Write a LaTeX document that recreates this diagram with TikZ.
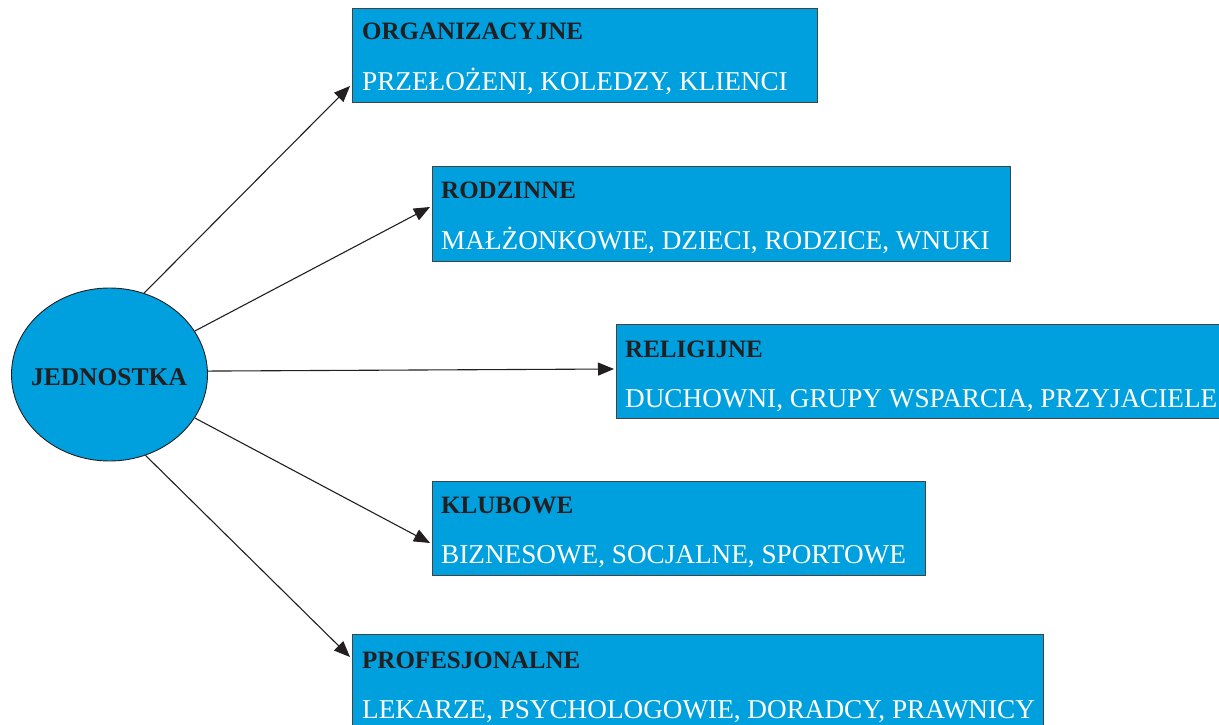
\documentclass[tikz,border=0pt]{standalone}
\usepackage{fontspec}
\setmainfont{Liberation Serif}
\usetikzlibrary{arrows.meta,shapes.geometric}
\definecolor{boxblue}{RGB}{0,160,223}
\definecolor{darktxt}{RGB}{35,31,32}
\begin{document}
\begin{tikzpicture}[x=1pt,y=-1pt,
  catbox/.style={draw=darktxt!85,line width=0.9pt,fill=boxblue},
  ttl/.style={anchor=base west,inner sep=0pt,text=darktxt,font=\fontsize{25}{30}\selectfont\bfseries},
  sub/.style={anchor=base west,inner sep=0pt,text=white,font=\fontsize{27.2}{32}\selectfont},
  conn/.style={draw=darktxt,line width=1.1pt,-{Triangle[length=16pt,width=13pt]}}]
\useasboundingbox (0,0) rectangle (1219,725);
% ellipse
\node[draw=darktxt,line width=0.9pt,fill=boxblue,ellipse,minimum width=196pt,minimum height=173pt,inner sep=0pt] (ell) at (109.5,374.5) {};
\node[anchor=base,inner sep=0pt,text=darktxt,font=\fontsize{25.5}{30}\selectfont\bfseries] (ellt) at (109,385) {JEDNOSTKA};
% boxes
\path[catbox] (352,8) rectangle (817,102);
\coordinate (b1) at (350,86);
\node[ttl] (t1) at (362,40) {ORGANIZACYJNE};
\node[sub] (s1) at (362,91) {PRZEŁOŻENI, KOLEDZY, KLIENCI};
\path[catbox] (432,166) rectangle (1010,261);
\coordinate (b2) at (430,207);
\node[ttl] (t2) at (441,198) {RODZINNE};
\node[sub] (s2) at (441,249) {MAŁŻONKOWIE, DZIECI, RODZICE, WNUKI};
\path[catbox] (616,324) rectangle (1222,418);
\coordinate (b3) at (614,369);
\node[ttl] (t3) at (625,357) {RELIGIJNE};
\node[sub] (s3) at (625,407) {DUCHOWNI, GRUPY WSPARCIA, PRZYJACIELE};
\path[catbox] (432,481) rectangle (925,575);
\coordinate (b4) at (430,543);
\node[ttl] (t4) at (441,513) {KLUBOWE};
\node[sub] (s4) at (441,563) {BIZNESOWE, SOCJALNE, SPORTOWE};
\path[catbox] (352,634) rectangle (1043,730);
\coordinate (b5) at (350,657);
\node[ttl] (t5) at (362,668) {PROFESJONALNE};
\node[sub] (s5) at (362,718) {LEKARZE, PSYCHOLOGOWIE, DORADCY, PRAWNICY};
% connectors
\draw[conn] (ell.67) -- (b1);
\draw[conn] (ell.27) -- (b2);
\draw[conn] (ell.2.5) -- (b3);
\draw[conn] (ell.-27.5) -- (b4);
\draw[conn] (ell.-66) -- (b5);
\end{tikzpicture}
\end{document}
